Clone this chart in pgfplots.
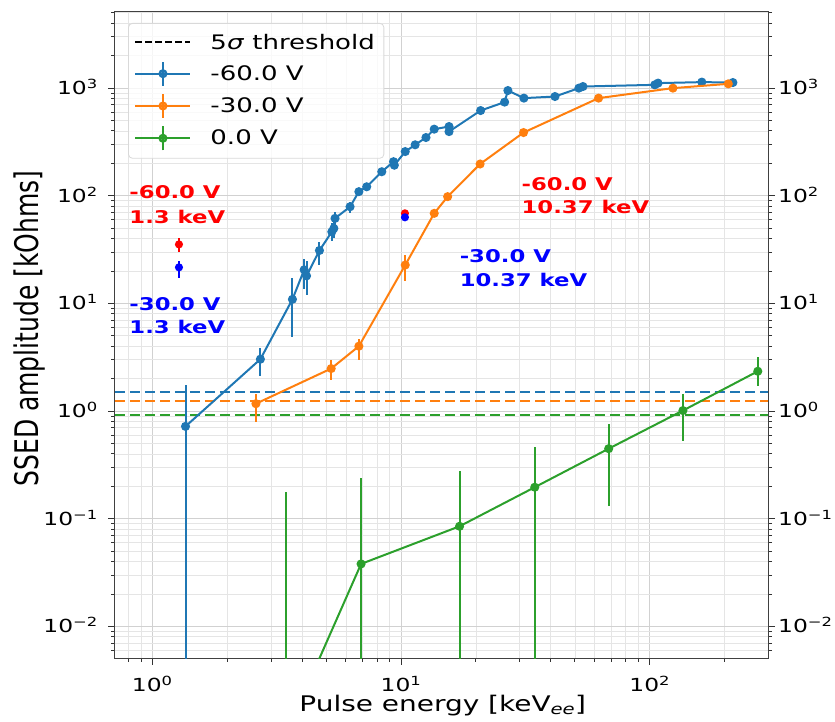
\documentclass[border=0pt]{standalone}
\usepackage{fontspec}
\setmainfont{DejaVu Sans}[FakeStretch=1.3]
\newfontfamily\ylabfont{DejaVu Sans}
\usepackage{graphicx}
\usepackage{pgfplots}
\pgfplotsset{compat=1.18}
\definecolor{tblue}{HTML}{1F77B4}
\definecolor{torange}{HTML}{FF7F0E}
\definecolor{tgreen}{HTML}{2CA02C}
\pgfplotsset{
  ebleg/.style={legend image code/.code={
    \draw[#1, line width=2pt] (0pt,0pt) -- (55pt,0pt);
    \draw[#1, line width=2pt] (27.5pt,-12pt) -- (27.5pt,12pt);
    \fill[#1] (27.5pt,0pt) circle (3.5pt);
    \path[draw=none, fill=none] (0pt,0pt) -- (72pt,0pt);}},
  series/.style={#1, line width=2pt, mark=*, mark size=3.5pt,
    mark options={solid, fill=#1, draw=#1},
    error bars/y dir=both, error bars/y explicit, error bars/error mark=none,
    error bars/error bar style={line width=2pt, #1}},
}
\begin{document}
\begin{tikzpicture}
\useasboundingbox (-115pt,-63pt) rectangle (720pt,658pt);
\begin{axis}[
  at={(0pt,0pt)}, anchor=south west,
  scale only axis, width=653pt, height=646pt,
  xmode=log, ymode=log,
  xmin=0.708, xmax=299, ymin=0.00508, ymax=5085,
  xtick={1,10,100},
  xticklabels={10\textsuperscript{0},10\textsuperscript{1},10\textsuperscript{2}},
  minor xtick={0.8,0.9,2,3,4,5,6,7,8,9,20,30,40,50,60,70,80,90,200},
  ytick={0.01,0.1,1,10,100,1000},
  yticklabels={10\textsuperscript{−2},10\textsuperscript{−1},10\textsuperscript{0},10\textsuperscript{1},10\textsuperscript{2},10\textsuperscript{3}},
  minor ytick={0.006,0.007,0.008,0.009,0.02,0.03,0.04,0.05,0.06,0.07,0.08,0.09,0.2,0.3,0.4,0.5,0.6,0.7,0.8,0.9,2,3,4,5,6,7,8,9,20,30,40,50,60,70,80,90,200,300,400,500,600,700,800,900,2000,3000,4000,5000},
  xtick pos=left, ytick pos=both, yticklabel pos=left,
  tick align=outside,
  major tick length=7pt, minor tick length=4pt,
  every tick/.style={black!80, line width=0.8pt},
  axis line style={black!75, line width=1pt},
  grid=both,
  major grid style={black!18, line width=0.8pt},
  minor grid style={black!10, line width=0.6pt},
  ticklabel style={font=\fontsize{18}{20}\selectfont},
  xticklabel style={inner sep=0pt, anchor=base, yshift=-27pt},
  yticklabel style={inner sep=0pt, anchor=base east, xshift=-10pt, yshift=-6.6pt},
  xlabel={Pulse energy [keV\textsubscript{\textit{ee}}]},
  every axis x label/.style={at={(rel axis cs:0.502,0)}, anchor=base, yshift=-53pt, font=\fontsize{21.5}{25}\selectfont},
  ylabel={\scalebox{1}[1.3]{\ylabfont\fontsize{25}{30}\selectfont SSED amplitude [kOhms]}},
  every axis y label/.style={at={(rel axis cs:-0.1309,0.51)}, anchor=center, rotate=90},
  clip marker paths=true,
  legend style={at={(0.02,0.983)}, anchor=north west,
    font=\fontsize{20}{24}\selectfont, draw=black!15, line width=0.8pt,
    rounded corners=4pt, fill=white, fill opacity=0.8, text opacity=1,
    inner xsep=6pt, inner ysep=7pt, row sep=6.3pt,
    nodes={inner sep=3pt}},
  legend cell align=left,
]
\addlegendimage{legend image code/.code={
    \draw[black, line width=2pt, dash pattern=on 7pt off 3pt] (0pt,0pt) -- (55pt,0pt);
    \path[draw=none, fill=none] (0pt,-12pt) -- (72pt,12pt);}}
\addlegendentry{5\textit{σ} threshold}

% 5 sigma thresholds
\addplot[forget plot, draw={rgb,255:red,31;green,119;blue,180}, line width=2pt, dash pattern=on 10pt off 5pt] coordinates {(0.708,1.50) (299,1.50)};
\addplot[forget plot, draw={rgb,255:red,255;green,127;blue,14}, line width=2pt, dash pattern=on 10pt off 5pt] coordinates {(0.708,1.23) (299,1.23)};
\addplot[forget plot, draw={rgb,255:red,44;green,160;blue,44}, line width=2pt, dash pattern=on 10pt off 5pt] coordinates {(0.708,0.91) (299,0.91)};

\addplot[series=tblue, ebleg=tblue] coordinates {
(1.36,0.72) += (0,1.01) -= (0,0.7195)
(2.72,3.03) += (0,0.8) -= (0,0.9)
(3.66,10.9) += (0,6.2) -= (0,6.0)
(4.08,20.5) += (0,5.5) -= (0,7)
(4.17,18.0) += (0,7) -= (0,6)
(4.70,31) += (0,6.3) -= (0,8.3)
(5.27,46.2) += (0,9) -= (0,8)
(5.37,49.7) += (0,8) -= (0,9)
(5.43,61.6) += (0,9.4) -= (0,10)
(6.24,79) += (0,9) -= (0,10)
(6.77,109) += (0,6) -= (0,6)
(7.28,121) += (0,5) -= (0,5)
(8.37,167) += (0,6) -= (0,6)
(9.33,207) += (0,12) -= (0,12)
(9.40,192) += (0,10) -= (0,10)
(10.4,257) += (0,9) -= (0,9)
(11.4,297) += (0,9) -= (0,9)
(12.6,347) += (0,10) -= (0,10)
(13.6,415) += (0,12) -= (0,12)
(15.6,439) += (0,12) -= (0,12)
(15.6,394) += (0,12) -= (0,12)
(20.9,618) += (0,15) -= (0,15)
(26.1,740) += (0,15) -= (0,15)
(26.9,948) += (0,20) -= (0,20)
(31.2,806) += (0,15) -= (0,15)
(41.6,834) += (0,15) -= (0,15)
(51.9,998) += (0,20) -= (0,20)
(53.9,1033) += (0,20) -= (0,20)
(104.8,1071) += (0,20) -= (0,20)
(108,1111) += (0,20) -= (0,20)
(162,1135) += (0,20) -= (0,20)
(216,1125) += (0,20) -= (0,20)
};
\addlegendentry{-60.0 V}

\addplot[series=torange, ebleg=torange] coordinates {
(2.61,1.17) += (0,0.28) -= (0,0.38)
(5.24,2.48) += (0,0.48) -= (0,0.55)
(6.77,4.0) += (0,0.71) -= (0,1.04)
(10.4,22.7) += (0,5.3) -= (0,6.4)
(13.6,68.6) += (0,4) -= (0,4)
(15.4,98) += (0,4) -= (0,4)
(20.8,197) += (0,5) -= (0,5)
(31.1,386) += (0,8) -= (0,8)
(62.3,806) += (0,10) -= (0,10)
(124,998) += (0,12) -= (0,12)
(207,1094) += (0,12) -= (0,12)
};
\addlegendentry{-30.0 V}

\addplot[series=tgreen, ebleg=tgreen] coordinates {
(3.45,0.001) += (0,0.176) -= (0,0.0009)
(6.91,0.038) += (0,0.202) -= (0,0.0379)
(17.2,0.085) += (0,0.195) -= (0,0.0849)
(34.5,0.196) += (0,0.264) -= (0,0.1959)
(68.4,0.447) += (0,0.313) -= (0,0.317)
(136,1.01) += (0,0.44) -= (0,0.48)
(272,2.34) += (0,0.81) -= (0,0.64)
};
\addlegendentry{0.0 V}

% single points
\addplot[forget plot, series=red, mark size=3pt, only marks] coordinates {(1.28,35.3) += (0,4.9) -= (0,5.1) (10.37,68.6) += (0,5) -= (0,5)};
\addplot[forget plot, series=blue, mark size=3pt, only marks] coordinates {(1.28,21.6) += (0,3.2) -= (0,4.5) (10.37,63.0) += (0,4) -= (0,4)};

\node[anchor=base west, inner sep=0pt, text=red, font=\bfseries\fontsize{17.5}{21}\selectfont] at (axis cs:0.808,94.6) {-60.0 V};
\node[anchor=base west, inner sep=0pt, text=red, font=\bfseries\fontsize{17.5}{21}\selectfont] at (axis cs:0.808,55.4) {1.3 keV};
\node[anchor=base west, inner sep=0pt, text=blue, font=\bfseries\fontsize{17.5}{21}\selectfont] at (axis cs:0.808,8.64) {-30.0 V};
\node[anchor=base west, inner sep=0pt, text=blue, font=\bfseries\fontsize{17.5}{21}\selectfont] at (axis cs:0.808,5.25) {1.3 keV};
\node[anchor=base west, inner sep=0pt, text=red, font=\bfseries\fontsize{17.5}{21}\selectfont] at (axis cs:30.5,111.3) {-60.0 V};
\node[anchor=base west, inner sep=0pt, text=red, font=\bfseries\fontsize{17.5}{21}\selectfont] at (axis cs:30.5,68.6) {10.37 keV};
\node[anchor=base west, inner sep=0pt, text=blue, font=\bfseries\fontsize{17.5}{21}\selectfont] at (axis cs:17.2,23.8) {-30.0 V};
\node[anchor=base west, inner sep=0pt, text=blue, font=\bfseries\fontsize{17.5}{21}\selectfont] at (axis cs:17.2,14.2) {10.37 keV};
\end{axis}
\begin{axis}[
  at={(0pt,0pt)}, anchor=south west,
  scale only axis, width=653pt, height=646pt,
  xmode=log, ymode=log,
  xmin=0.708, xmax=299, ymin=0.00508, ymax=5085,
  hide x axis, axis y line*=right, axis line style={draw=none},
  ytick={0.01,0.1,1,10,100,1000},
  yticklabels={10\textsuperscript{−2},10\textsuperscript{−1},10\textsuperscript{0},10\textsuperscript{1},10\textsuperscript{2},10\textsuperscript{3}},
  minor ytick={},
  major tick length=0pt, minor tick length=0pt,
  yticklabel style={inner sep=0pt, anchor=base west, xshift=10pt, yshift=-6.6pt, font=\fontsize{18}{20}\selectfont},
]
\end{axis}
\end{tikzpicture}
\end{document}
